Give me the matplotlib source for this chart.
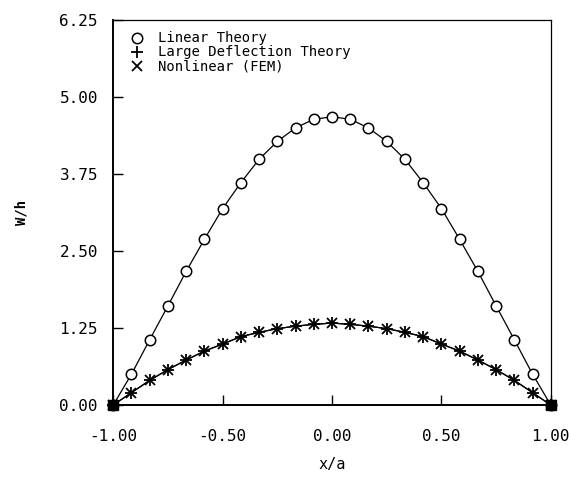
import numpy as np
import matplotlib.pyplot as plt

# Deflection profiles along the span, sampled at x/a = k/12
x_a = np.arange(-12, 13) / 12.0

# half profile from centre outwards (x/a = 0, 1/12, ..., 1)
linear_half = [4.68, 4.64, 4.50, 4.28, 3.99, 3.61, 3.19, 2.69, 2.17, 1.61, 1.06, 0.50, 0.0]
large_half = [1.33, 1.31, 1.28, 1.24, 1.18, 1.11, 0.99, 0.875, 0.73, 0.575, 0.40, 0.20, 0.0]
fem_half = [1.33, 1.31, 1.28, 1.24, 1.18, 1.11, 0.99, 0.875, 0.73, 0.575, 0.40, 0.20, 0.0]

linear_w = np.array(linear_half[::-1] + linear_half[1:])
large_w = np.array(large_half[::-1] + large_half[1:])
fem_w = np.array(fem_half[::-1] + fem_half[1:])

x_ticks = [-1.0, -0.5, 0.0, 0.5, 1.0]
y_ticks = [0.0, 1.25, 2.50, 3.75, 5.00, 6.25]

plt.rcParams["font.family"] = "DejaVu Sans Mono"

fig = plt.figure(figsize=(5.69, 4.79), dpi=100)
ax = fig.add_axes([0.199, 0.1545, 0.769, 0.8035])

ax.plot(x_a, linear_w, color="black", lw=0.9, marker="o", ms=7.5,
        mfc="white", mec="black", mew=1.1, label="Linear Theory", clip_on=False)
ax.plot(x_a, large_w, color="black", lw=0.9, marker="+", ms=8.5,
        mew=1.3, label="Large Deflection Theory", clip_on=False)
ax.plot(x_a, fem_w, color="black", lw=0.9, marker="x", ms=6.5,
        mew=1.3, label="Nonlinear (FEM)", clip_on=False)

# supports at both ends
ax.plot([x_a[0], x_a[-1]], [0, 0], ls="none", marker="s", ms=7.5,
        color="black", clip_on=False, zorder=5)

ax.set_xlim(-1.0, 1.0)
ax.set_ylim(0.0, 6.25)
ax.set_xticks(x_ticks)
ax.set_yticks(y_ticks)
ax.set_xticklabels([f"{v:.2f}" for v in x_ticks], fontsize=11.5)
ax.set_yticklabels([f"{v:.2f}" for v in y_ticks], fontsize=11.5)
ax.tick_params(direction="in", length=7, width=1.0)
ax.tick_params(axis="y", pad=11)
ax.tick_params(axis="x", pad=17)

for side in ["left", "bottom"]:
    ax.spines[side].set_linewidth(1.4)
for side in ["top", "right"]:
    ax.spines[side].set_linewidth(0.9)

ax.set_xlabel("x/a", fontsize=11, labelpad=10)
ax.set_ylabel("W/h", fontsize=10, fontweight="bold", labelpad=22)

leg = ax.legend(loc="upper left", frameon=False, fontsize=10,
                handlelength=1.0, handletextpad=1.0, labelspacing=0.0,
                borderaxespad=0.0, bbox_to_anchor=(0.025, 0.985))
for h in leg.legend_handles:
    h.set_linestyle("none")

fig.savefig("out.png", dpi=100)
